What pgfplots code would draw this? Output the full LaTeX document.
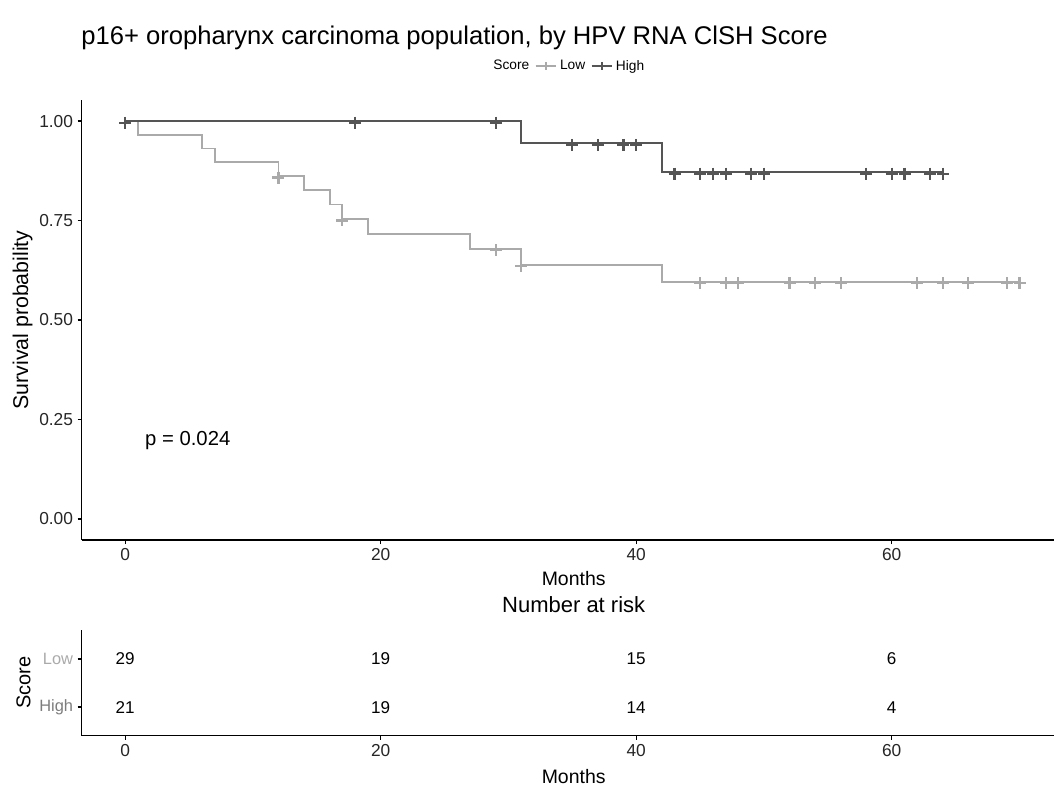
\documentclass[border=0pt]{standalone}
\usepackage{pgfplots}
\pgfplotsset{compat=1.18}
\usepackage{fontspec}
\setmainfont{Liberation Sans}
\definecolor{lowc}{RGB}{170,170,170}
\definecolor{highc}{RGB}{85,85,85}
\definecolor{highlab}{RGB}{125,125,125}
\pgfplotsset{km/.style={
  scale only axis, width=729.2pt,
  xmin=-3.4, xmax=72.7,
  axis x line*=bottom, axis y line*=left,
  axis line style={line width=0.8pt, black},
  xtick pos=bottom, ytick pos=left,
  tick align=outside, major tick length=3pt,
  xtick style={draw=black, line width=1pt},
  ytick style={draw=black, line width=1pt},
  xtick={0,20,40,60},
  /pgf/number format/assume math mode=true,
  xticklabel style={font=\fontsize{13}{15}\selectfont, text=black!85},
  clip=false,
}}
\begin{document}
\begin{tikzpicture}
\useasboundingbox (0,0) rectangle (790.5pt,-589.5pt);
\node[anchor=west, font=\fontsize{19.2}{22}\selectfont] at (57.5pt,-28.5pt) {p16+ oropharynx carcinoma population, by HPV RNA ClSH Score};
\begin{axis}[km,
  at={(61.3pt,-405pt)}, anchor=south west,
  height=330pt,
  ymin=-0.053, ymax=1.053,
  ytick={0,0.25,0.5,0.75,1},
  yticklabels={0.00,0.25,0.50,0.75,1.00},
  yticklabel style={font=\fontsize{13}{15}\selectfont, text=black!85},
  xlabel={Months}, ylabel={Survival probability},
  every axis x label/.style={at={(axis description cs:0.506,-0.0886)}, anchor=center, font=\fontsize{14.6}{17}\selectfont},
  every axis y label/.style={at={(axis description cs:-0.0609,0.5)}, rotate=90, anchor=center, font=\fontsize{16}{19}\selectfont},
  legend style={at={(axis description cs:0.501,1.077)}, anchor=center, draw=none, fill=none,
    legend columns=-1, font=\fontsize{10.3}{12}\selectfont,
    /tikz/every even column/.append style={column sep=2pt},
    inner sep=0pt},
  legend image code/.code={
    \draw[#1, mark=none] (0cm,0cm) -- (0.55cm,0cm);
    \draw[#1, only marks] plot coordinates {(0.275cm,0cm)};
  },
]
\addlegendimage{empty legend}
\addlegendentry{Score}
\addlegendimage{lowc, line width=1.4pt, mark=+, mark size=3.2pt, mark options={line width=1.4pt}}
\addlegendentry{Low}
\addlegendimage{highc, line width=1.4pt, mark=+, mark size=3.2pt, mark options={line width=1.4pt}}
\addlegendentry{High}
% Low score curve
\addplot[const plot, lowc, line width=1.4pt, forget plot] coordinates {
(0,1) (1,0.9655) (6,0.931) (7,0.8966) (12,0.8621) (14,0.8261) (16,0.7902)
(17,0.7543) (19,0.7166) (27,0.6789) (31,0.6389) (42,0.5963) (70,0.5963)};
\addplot[only marks, mark=+, mark size=4.5pt, lowc, mark options={line width=1.6pt, yshift=-1.2pt}, forget plot] coordinates {
(12,0.8621) (17,0.7543) (29,0.6789) (31,0.6389)
(45,0.5963) (47,0.5963) (48,0.5963) (52,0.5963) (54,0.5963) (56,0.5963)
(62,0.5963) (64,0.5963) (66,0.5963) (69,0.5963) (70,0.5963)};
% High score curve
\addplot[const plot, highc, line width=1.4pt, forget plot] coordinates {
(0,1) (31,0.9444) (42,0.8718) (64,0.8718)};
\addplot[only marks, mark=+, mark size=4.5pt, highc, mark options={line width=1.6pt, yshift=-1.2pt}, forget plot] coordinates {
(0,1) (18,1) (29,1)
(35,0.9444) (37,0.9444) (39,0.9444) (40,0.9444)
(43,0.8718) (45,0.8718) (46,0.8718) (47,0.8718) (49,0.8718) (50,0.8718)
(58,0.8718) (60,0.8718) (61,0.8718) (63,0.8718) (64,0.8718)};
\node[anchor=west, font=\fontsize{15.2}{18}\selectfont, inner sep=0pt] at (axis cs:1.55,0.196) {p = 0.024};
\end{axis}
\begin{axis}[km,
  at={(61.3pt,-551.8pt)}, anchor=south west,
  height=79.3pt,
  ymin=0.4, ymax=2.6,
  ytick={1,2},
  yticklabels={\textcolor{highlab}{High},\textcolor{lowc}{Low}},
  yticklabel style={font=\fontsize{12.3}{14}\selectfont},
  xlabel={Months}, ylabel={Score},
  every axis x label/.style={at={(axis description cs:0.506,-0.382)}, anchor=center, inner sep=0pt, font=\fontsize{14.6}{17}\selectfont},
  every axis y label/.style={at={(axis description cs:-0.0599,0.5)}, rotate=90, anchor=center, font=\fontsize{15}{18}\selectfont},
  title={Number at risk},
  title style={at={(axis description cs:0.506,1.161)}, anchor=center, font=\fontsize{16.5}{19}\selectfont},
]
\addplot[only marks, mark=none, nodes near coords, point meta=explicit symbolic,
  every node near coord/.style={anchor=center, font=\fontsize{12.8}{15}\selectfont, text=black,
    text height=9.2pt, text depth=0pt}]
  table[meta=n] {
x y n
0 2 29
20 2 19
40 2 15
60 2 6
0 1 21
20 1 19
40 1 14
60 1 4
};
\end{axis}
\end{tikzpicture}
\end{document}
